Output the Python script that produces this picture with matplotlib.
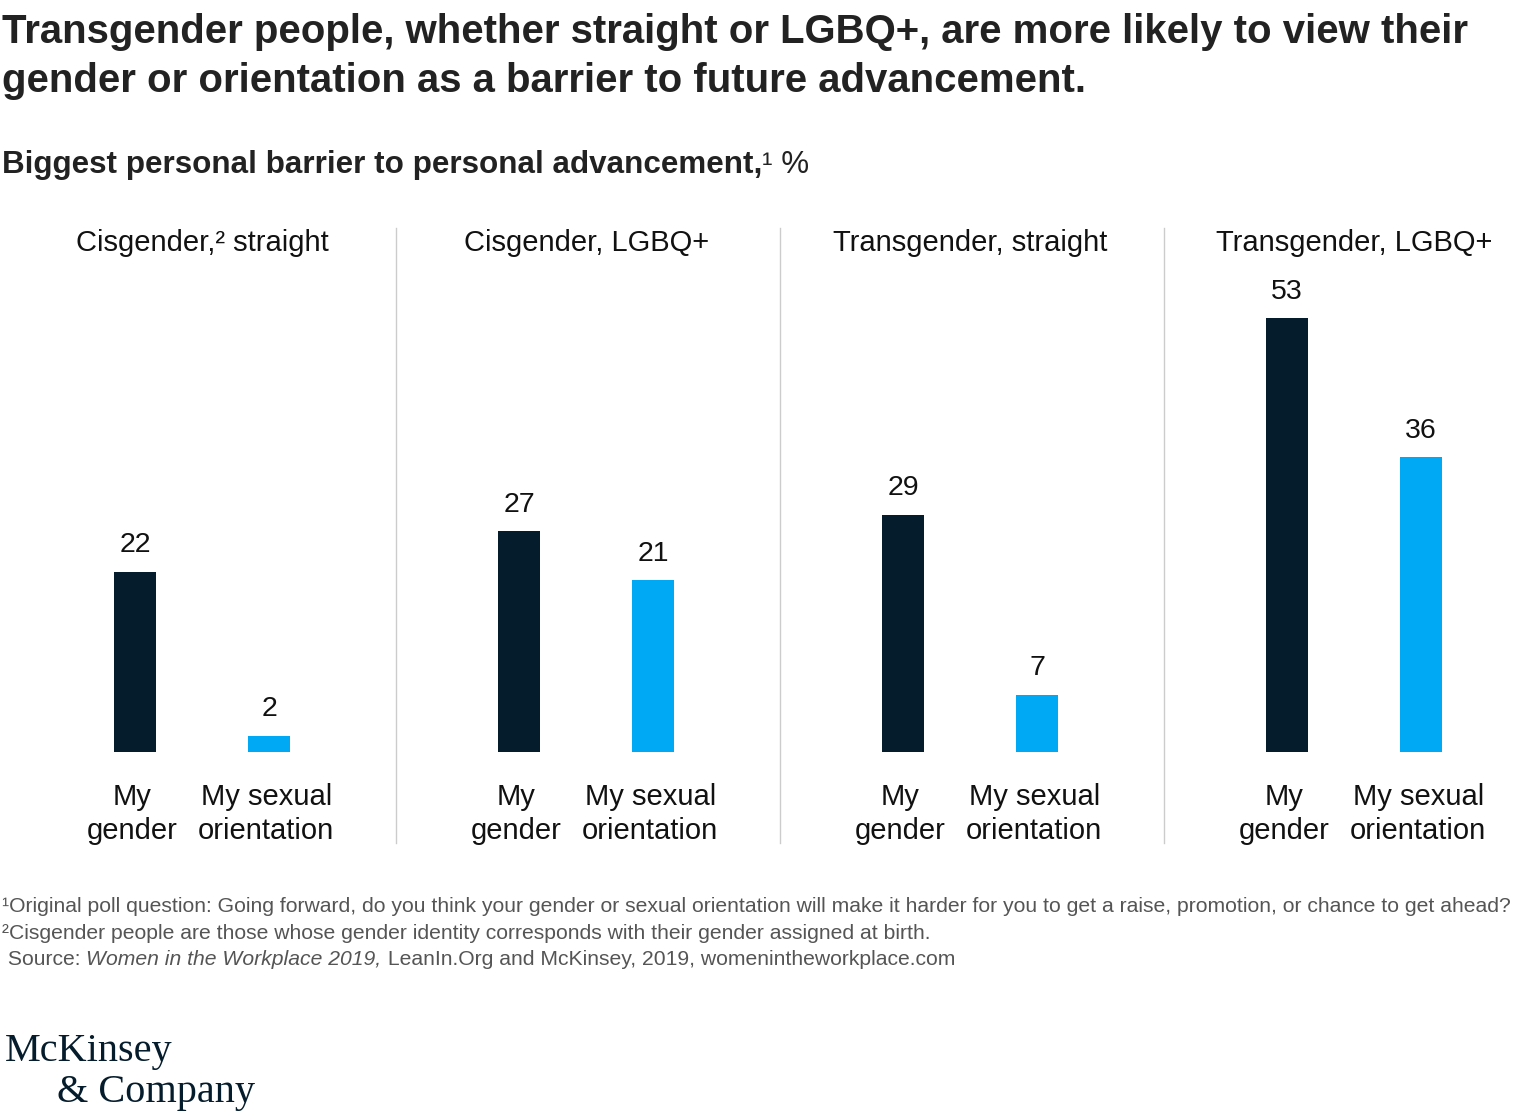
import matplotlib
matplotlib.use("Agg")
import matplotlib.pyplot as plt
import matplotlib.transforms as mtransforms

# ---- data ----
groups = ["Cisgender,\u00b2 straight", "Cisgender, LGBQ+", "Transgender, straight", "Transgender, LGBQ+"]
categories = ["My\ngender", "My sexual\norientation"]
gender_values = [22, 27, 29, 53]
orientation_values = [2, 21, 7, 36]

title_lines = ["Transgender people, whether straight or LGBQ+, are more likely to view their",
               "gender or orientation as a barrier to future advancement."]
subtitle_bold = "Biggest personal barrier to personal advancement,"
subtitle_rest = "\u00b9 %"
footnote1 = "\u00b9Original poll question: Going forward, do you think your gender or sexual orientation will make it harder for you to get a raise, promotion, or chance to get ahead?"
footnote2 = "\u00b2Cisgender people are those whose gender identity corresponds with their gender assigned at birth."
source_pieces = [(" Source: ", "normal"), ("Women in the Workplace 2019,", "italic"),
                 (" LeanIn.Org and McKinsey, 2019, womenintheworkplace.com", "normal")]

NAVY = "#051C2C"
BLUE = "#00A9F4"
TXT = "#222222"
GRAY = "#555555"

plt.rcParams['font.family'] = ['Liberation Sans', 'DejaVu Sans']

W, H = 1536, 1120
fig = plt.figure(figsize=(W / 100, H / 100), dpi=100)
fig.patch.set_facecolor("white")

def fx(x):
    return x / W

def fy(y):
    return 1 - y / H

# main axes: baseline at y=752 px, top at 228 px
ax_left, ax_base, ax_top = 12, 752, 228
ax = fig.add_axes([fx(ax_left), fy(ax_base), 1.0, (ax_base - ax_top) / H])
ymax = 64
ax.set_xlim(0, 4)
ax.set_ylim(0, ymax)
ax.axis("off")

offset = 0.1745
bw = 0.109
for i, g in enumerate(groups):
    c = i + 0.495
    xs = [c - offset, c + offset]
    vals = [gender_values[i], orientation_values[i]]
    cols = [NAVY, BLUE]
    ax.bar(xs, vals, width=bw, color=cols, linewidth=0)
    for x, v in zip(xs, vals):
        ax.annotate(str(v), (x, v), xytext=(0, 19), textcoords="offset points",
                    ha="center", va="center", fontsize=20.5, color="#111111")
    for x, lab in zip(xs, categories):
        ax.annotate(lab, (x, 0), xytext=(-2, -22), textcoords="offset points",
                    ha="center", va="top", fontsize=21, color="#111111", linespacing=1.3)
    ax.text(c, ymax - (243 - ax_top) / 8.19, g, ha="center", va="center",
            fontsize=21, color="#111111")
    if i > 0:
        ax.plot([i, i], [1.0, -(843 - ax_base) / (ax_base - ax_top)],
                transform=mtransforms.blended_transform_factory(ax.transData, ax.transAxes),
                color="#cccccc", lw=1.0, clip_on=False)

# title
fig.text(fx(2), fy(43), title_lines[0], fontsize=28.9, fontweight="bold", color=TXT,
         ha="left", va="baseline")
fig.text(fx(2), fy(92), title_lines[1], fontsize=28.9, fontweight="bold", color=TXT,
         ha="left", va="baseline")

renderer = fig.canvas.get_renderer()

def chain(x_px, y_px, pieces):
    x = x_px
    for s, kw in pieces:
        t = fig.text(fx(x), fy(y_px), s, ha="left", va="baseline", **kw)
        bb = t.get_window_extent(renderer)
        x += bb.width
    return x

chain(2, 173, [(subtitle_bold, dict(fontsize=22.6, fontweight="bold", color=TXT)),
               (subtitle_rest, dict(fontsize=22.6, color=TXT))])

fig.text(fx(2), fy(912), footnote1, fontsize=15.2, color=GRAY, ha="left", va="baseline")
fig.text(fx(2), fy(939), footnote2, fontsize=15.2, color=GRAY, ha="left", va="baseline")
chain(2, 965, [(s, dict(fontsize=15.2, color=GRAY, style=st)) for s, st in source_pieces])

# logo
fig.text(fx(5), fy(1061), "McKinsey", fontsize=29, family="Liberation Serif", color=NAVY,
         ha="left", va="baseline")
fig.text(fx(57), fy(1102), "& Company", fontsize=29, family="Liberation Serif", color=NAVY,
         ha="left", va="baseline")

fig.savefig("out.png", dpi=100, facecolor="white")
